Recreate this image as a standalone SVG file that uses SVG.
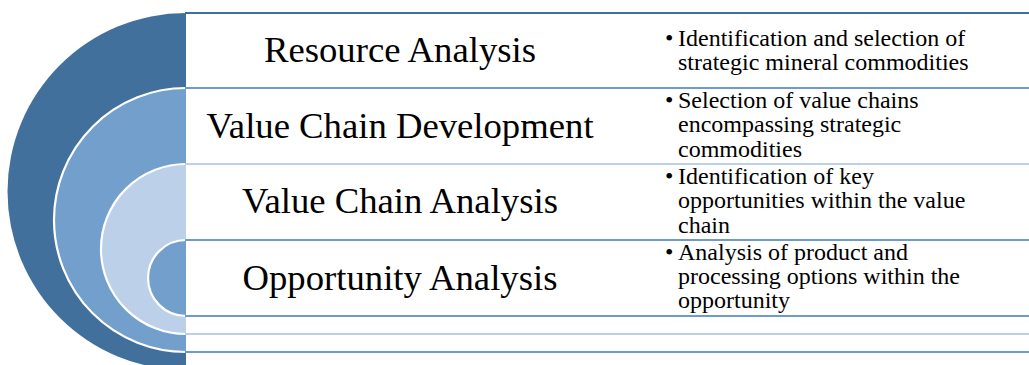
<svg xmlns="http://www.w3.org/2000/svg" width="1029" height="365" viewBox="0 0 1029 365">
  <style>
    .dark { fill: #42709c; }
    .mid { fill: #739fcd; }
    .light { fill: #bdd0e9; }
    .rim { fill: none; stroke: #ffffff; stroke-width: 2.2; }
    .ln { stroke-width: 2.2; fill: none; }
    .ln-dark { stroke: #42709c; }
    .ln-mid { stroke: #6f9bcb; }
    .ln-light { stroke: #bdd0e9; }
    .label { font-family: "Liberation Serif", "Times New Roman", serif; font-size: 36.7px; fill: #000000; text-anchor: middle; }
    .desc { font-family: "Liberation Serif", "Times New Roman", serif; font-size: 24px; fill: #000000; }
  </style>
  <rect x="0" y="0" width="1029" height="365" fill="#ffffff"/>

  <g id="level1">
    <path class="dark" d="M186,13 A178.5,178.5 0 0 0 186,370 Z"/>
    <line class="ln ln-dark" x1="185" y1="13" x2="1029" y2="13"/>
    <text class="label" x="400" y="62">Resource Analysis</text>
    <text class="desc" x="665" y="46">•</text>
    <text class="desc" x="678" y="46">Identification and selection of</text>
    <text class="desc" x="678" y="70">strategic mineral commodities</text>
  </g>

  <g id="level2">
    <path class="mid" d="M186,88 A132,132 0 0 0 186,352 Z"/>
    <path class="rim" d="M186,88 A132,132 0 0 0 186,352"/>
    <line class="ln ln-mid" x1="185" y1="88" x2="1029" y2="88"/>
    <line class="ln ln-mid" x1="185" y1="352" x2="1029" y2="352"/>
    <text class="label" x="400" y="138">Value Chain Development</text>
    <text class="desc" x="665" y="108">•</text>
    <text class="desc" x="678" y="108">Selection of value chains</text>
    <text class="desc" x="678" y="132">encompassing strategic</text>
    <text class="desc" x="678" y="156.5">commodities</text>
  </g>

  <g id="level3">
    <path class="light" d="M186,164 A85,85 0 0 0 186,334 Z"/>
    <path class="rim" d="M186,164 A85,85 0 0 0 186,334"/>
    <line class="ln ln-light" x1="185" y1="164" x2="1029" y2="164"/>
    <line class="ln ln-light" x1="185" y1="334" x2="1029" y2="334"/>
    <text class="label" x="400" y="213">Value Chain Analysis</text>
    <text class="desc" x="665" y="184">•</text>
    <text class="desc" x="678" y="184">Identification of key</text>
    <text class="desc" x="678" y="208">opportunities within the value</text>
    <text class="desc" x="678" y="232.5">chain</text>
  </g>

  <g id="level4">
    <path class="mid" d="M186,240 A38,38 0 0 0 186,316 Z"/>
    <path class="rim" d="M186,240 A38,38 0 0 0 186,316"/>
    <line class="ln ln-mid" x1="185" y1="240" x2="1029" y2="240"/>
    <line class="ln ln-mid" x1="185" y1="316" x2="1029" y2="316"/>
    <text class="label" x="400" y="290">Opportunity Analysis</text>
    <text class="desc" x="665" y="260">•</text>
    <text class="desc" x="678" y="260">Analysis of product and</text>
    <text class="desc" x="678" y="284">processing options within the</text>
    <text class="desc" x="678" y="308">opportunity</text>
  </g>
</svg>
